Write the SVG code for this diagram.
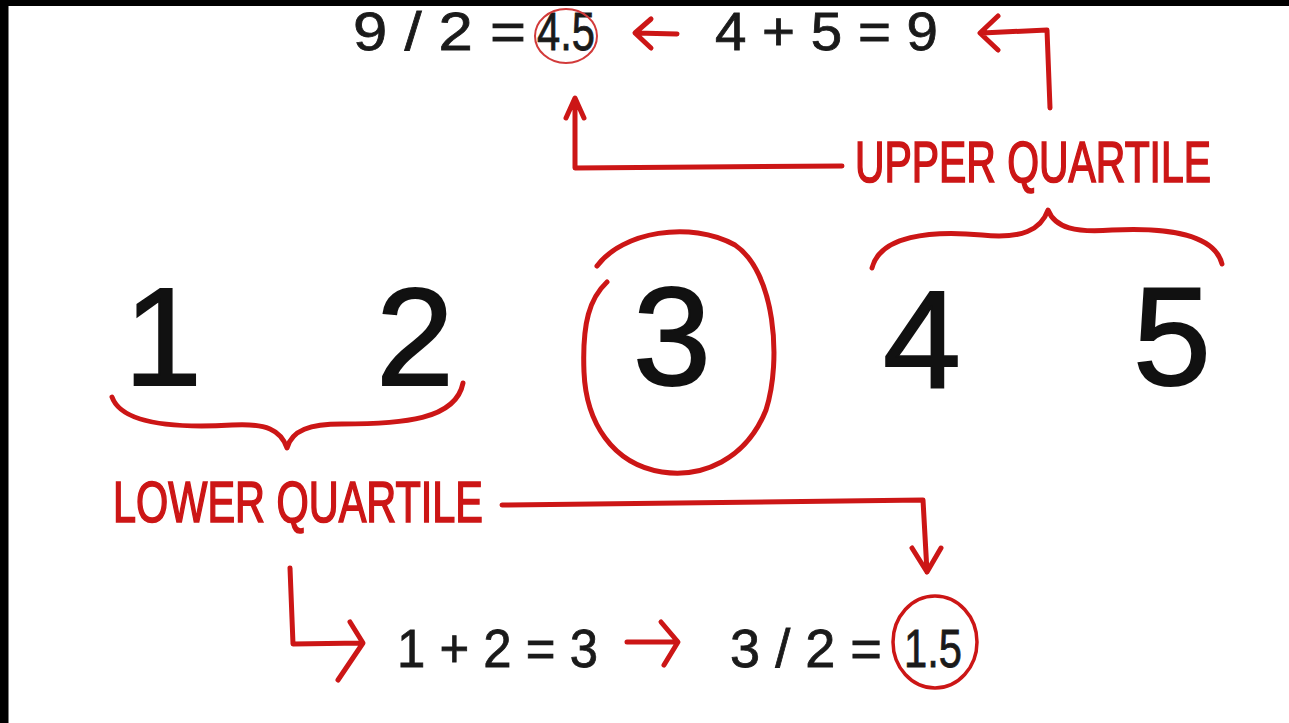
<svg xmlns="http://www.w3.org/2000/svg" width="1289" height="723" viewBox="0 0 1289 723">
<defs>
<style>
.bg{fill:#ffffff}
.band{fill:#000000}
.num{font-family:"Liberation Sans","Noto Sans",sans-serif;font-size:140px;fill:#111111;stroke:#111111;stroke-width:2;text-anchor:middle}
.eq{font-family:"Liberation Sans","Noto Sans",sans-serif;font-size:54px;fill:#1a1a1a;stroke:#1a1a1a;stroke-width:0.8}
.lbl{font-family:"Liberation Sans","Noto Sans",sans-serif;font-size:41px;fill:#cc1616;stroke:#cc1616;stroke-width:1.2}
.red{fill:none;stroke:#cc1616;stroke-width:5;stroke-linecap:round;stroke-linejoin:round}
.thin{fill:none;stroke:#d23a3a;stroke-width:2;stroke-linecap:round}
</style>
</defs>
<rect class="bg" x="0" y="0" width="1289" height="723"/>
<rect class="band" x="0" y="0" width="1289" height="6"/>
<rect class="band" x="0" y="0" width="8.5" height="723"/>

<g id="n1"><text class="num" x="163" y="385">1</text></g>
<g id="n2"><text class="num" x="415" y="385">2</text></g>
<g id="n3">
<text class="num" x="672" y="385">3</text>
<path class="red" d="M597,266 C622,232 690,220 735,245 C775,272 782,360 766,410 C746,460 702,478 662,472 C612,464 586,422 584,372 C582,322 590,298 607,282"/>
</g>
<g id="n4"><text class="num" x="922" y="388">4</text></g>
<g id="n5"><text class="num" x="1172" y="385">5</text></g>

<g id="upper-eq1">
<text class="eq" x="353" y="50" textLength="173" lengthAdjust="spacingAndGlyphs">9 / 2 =</text>
<text class="eq" x="537" y="50" textLength="58" lengthAdjust="spacingAndGlyphs">4.5</text>
<ellipse class="thin" cx="566" cy="36" rx="31" ry="27"/>
</g>
<g id="upper-eq2"><text class="eq" x="715" y="50" textLength="223" lengthAdjust="spacingAndGlyphs">4 + 5 = 9</text></g>
<g id="upper-label"><text class="lbl" transform="translate(855,182) scale(1,1.4)" x="0" y="0" textLength="356" lengthAdjust="spacingAndGlyphs">UPPER QUARTILE</text></g>

<g id="lower-label"><text class="lbl" transform="translate(113,522) scale(1,1.4)" x="0" y="0" textLength="370" lengthAdjust="spacingAndGlyphs">LOWER QUARTILE</text></g>
<g id="lower-eq1"><text class="eq" x="397" y="667" textLength="201" lengthAdjust="spacingAndGlyphs">1 + 2 = 3</text></g>
<g id="lower-eq2">
<text class="eq" x="730" y="667" textLength="152" lengthAdjust="spacingAndGlyphs">3 / 2 =</text>
<text class="eq" x="904" y="667" textLength="58" lengthAdjust="spacingAndGlyphs">1.5</text>
<ellipse class="red" cx="935" cy="642" rx="42" ry="46" style="stroke-width:3.5"/>
</g>

<g id="connectors">
<path class="red" d="M112,397 C122,425 180,428 232,425 C266,423 281,430 287,448 C292,430 310,424 342,424 C402,424 456,420 463,383"/>
<path class="red" d="M872,268 C880,236 930,230 982,235 C1022,239 1041,230 1048,210 C1055,228 1076,233 1112,230 C1172,227 1215,236 1222,264"/>
<path class="red" d="M677,34 L636,33 M651,19 L635,33 L651,48"/>
<path class="red" d="M1050,108 L1047,30 L982,33 M998,16 L980,33 L998,50"/>
<path class="red" d="M842,166 L575,168 L575,100 M566,118 L575,98 L584,118"/>
<path class="red" d="M502,505 L923,500 L927,572 M912,548 L927,572 L941,548"/>
<path class="red" d="M290,568 L293,644 L362,643 M350,622 L363,643 L338,680"/>
<path class="red" d="M627,642 L677,642 M661,622 L678,642 L664,665"/>
</g>
</svg>
